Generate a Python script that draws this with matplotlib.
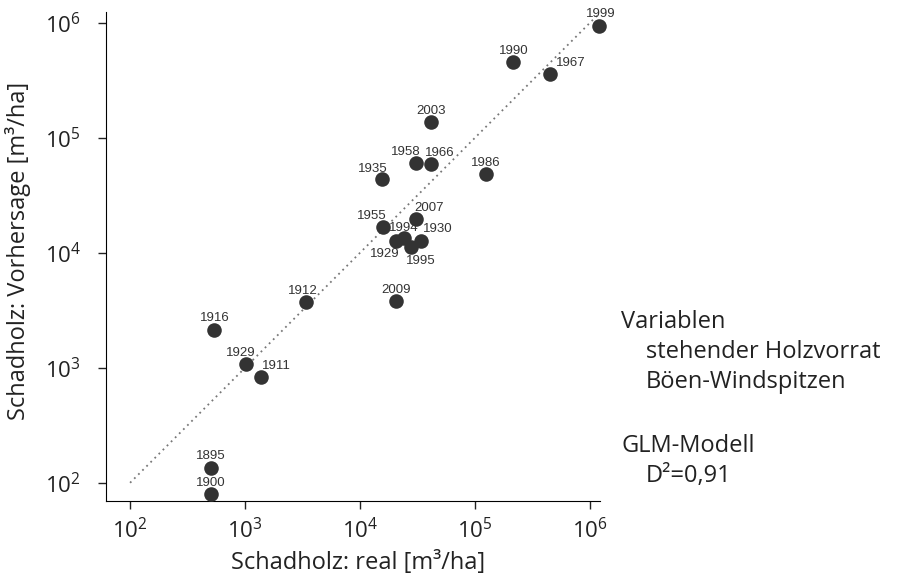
import numpy as np
import matplotlib; matplotlib.use("Agg")
import matplotlib.pyplot as plt

plt.rcParams["font.family"] = ["Open Sans", "DejaVu Sans"]

# data (m3/ha)
years = ["1999", "1990", "1967", "2003", "1958", "1966", "1986", "1935", "1955", "2007",
         "1929", "1994", "1995", "1930", "2009", "1912", "1916", "1929", "1911", "1895", "1900"]
real = [1.22e6, 2.14e5, 4.55e5, 4.2e4, 3.07e4, 4.14e4, 1.25e5, 1.55e4, 1.58e4, 3.07e4,
        2.06e4, 2.42e4, 2.77e4, 3.39e4, 2.06e4, 3.39e3, 537, 1020, 1380, 506, 506]
pred = [9.5e5, 4.55e5, 3.6e5, 1.38e5, 6.05e4, 5.9e4, 4.86e4, 4.4e4, 1.68e4, 1.98e4,
        1.27e4, 1.35e4, 1.13e4, 1.27e4, 3.83e3, 3.75e3, 2140, 1080, 835, 135, 80]
# label offsets in points (dx, dy)
offs = [(1, 8.5), (1, 8), (15, 8), (0, 8), (-7, 8), (6.5, 8), (0, 8), (-6.5, 7.5), (-8, 8), (9.5, 8),
        (-8, -9.5), (0, 7.5), (7, -10), (12, 9), (0, 8), (-2, 8), (0.5, 8.5), (-3.5, 8), (11, 8), (0, 8.5), (0, 8)]

fig = plt.figure(figsize=(8.98, 5.79), dpi=100)
ax = fig.add_axes([0.118, 0.135, 0.55, 0.844])
ax.set_xscale("log"); ax.set_yscale("log")
ax.set_xlim(10**1.79, 10**6.09); ax.set_ylim(10**1.843, 10**6.096)

ax.plot([1e2, 10**6.08], [1e2, 10**6.08], ls=(0, (1, 2.2)), c="#777777", lw=1.3)
ax.scatter(real, pred, s=110, c="#333333", zorder=3, clip_on=False, linewidths=0)
for yr, x, y, (dx, dy) in zip(years, real, pred, offs):
    ax.annotate(yr, (x, y), xytext=(dx, dy), textcoords="offset points", ha="center", va="center",
                fontsize=9.5, family="Liberation Sans", color="#333333")

for s in ["top", "right"]:
    ax.spines[s].set_visible(False)
ax.set_xticks([1e2, 1e3, 1e4, 1e5, 1e6]); ax.set_yticks([1e2, 1e3, 1e4, 1e5, 1e6])
ax.minorticks_off()
ax.tick_params(labelsize=16, length=6, width=1, color="#222222", labelcolor="#222222")
ax.tick_params(axis="x", pad=6)
ax.tick_params(axis="y", pad=12)
ax.set_xlabel("Schadholz: real [m³/ha]", fontsize=17, color="#222222", va="center")
ax.set_ylabel("Schadholz: Vorhersage [m³/ha]", fontsize=17, color="#222222", va="center")
ax.xaxis.set_label_coords(0.51, -0.127)
ax.yaxis.set_label_coords(-0.178, 0.511)

kw = dict(fontsize=17, va="baseline", color="#222222")
fig.text(0.692, 0.4335, "Variablen", **kw)
fig.text(0.719, 0.3817, "stehender Holzvorrat", **kw)
fig.text(0.719, 0.3299, "Böen-Windspitzen", **kw)
fig.text(0.692, 0.2193, "GLM-Modell", **kw)
fig.text(0.719, 0.1675, "D²=0,91", **kw)

plt.savefig("out.png", dpi=100)
